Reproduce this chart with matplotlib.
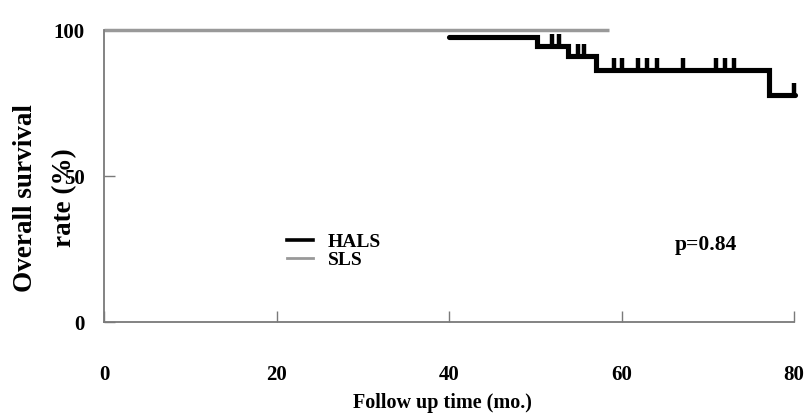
import matplotlib
matplotlib.use("Agg")
import matplotlib.pyplot as plt
from matplotlib.path import Path
from matplotlib.lines import Line2D

plt.rcParams['font.family'] = ['Liberation Serif', 'DejaVu Serif']

# ---- data ----
hals_time = [40, 50.2, 53.8, 57.0, 77.1, 80.1]
hals_surv = [97.6, 94.4, 91.0, 86.3, 77.7, 77.7]
hals_censor_time = [51.9, 52.8, 55.0, 55.7, 59.1, 60.0, 61.9, 62.9, 64.1,
                    67.1, 71.0, 72.0, 73.1, 80.0]
sls_time = [0, 58.5]
sls_surv = [100, 100]
x_ticks = [0, 20, 40, 60, 80]
y_ticks = [0, 50, 100]
series_names = ["HALS", "SLS"]
p_text = "p=0.84"
x_label = "Follow up time (mo.)"
y_label = "Overall survival\nrate (%)"

# ---- figure ----
W, H = 806, 416
fig = plt.figure(figsize=(W / 100, H / 100), dpi=100)
ax = fig.add_axes([104 / W, 1 - 322 / H, (794 - 104) / W, (322 - 30) / H])

black = "#000000"
gray = "#999999"
axis_col = "#7a7a7a"

ax.plot(sls_time, sls_surv, color=gray, lw=2.5, solid_capstyle='butt',
        clip_on=False, zorder=2)
ax.step(hals_time, hals_surv, where='post', color=black, lw=3.7,
        solid_capstyle='round', solid_joinstyle='miter', clip_on=False, zorder=3)


def surv_at(t):
    s = hals_surv[0]
    for tt, ss in zip(hals_time, hals_surv):
        if t >= tt:
            s = ss
    return s


cens_y = [surv_at(t) for t in hals_censor_time]
up_tick = Path([(0, 0), (0, 1)], [Path.MOVETO, Path.LINETO])
ax.plot(hals_censor_time, cens_y, linestyle='none', marker=up_tick,
        markersize=18, markeredgewidth=3.2, markeredgecolor=black,
        clip_on=False, zorder=3)

ax.set_xlim(0, 80)
ax.set_ylim(0, 100)
ax.set_xticks(x_ticks)
ax.set_yticks(y_ticks)
ax.set_xticklabels([str(v) for v in x_ticks], fontsize=15, fontweight='bold')
ax.set_yticklabels([str(v) for v in y_ticks], fontsize=15, fontweight='bold')
ax.tick_params(axis='x', direction='in', length=8, width=1, color=axis_col, pad=31)
ax.tick_params(axis='y', direction='in', length=8, width=1, color=axis_col, pad=14)

for s in ['top', 'right']:
    ax.spines[s].set_visible(False)
for s in ['left', 'bottom']:
    ax.spines[s].set_color(axis_col)
    ax.spines[s].set_linewidth(1.3)

ax.set_xlabel(x_label, fontsize=14.5, fontweight='bold')
ax.xaxis.set_label_coords(0.49, -0.243)
ax.xaxis.label.set_va('top')

ax.text(-0.0855, 0.425, y_label, transform=ax.transAxes, rotation=90,
        ha='center', va='center', fontsize=19.5, fontweight='bold',
        linespacing=1.7, multialignment='center')

handles = [Line2D([], [], color=black, lw=2.6),
           Line2D([], [], color=gray, lw=2.0)]
ax.legend(handles, series_names, loc='upper left',
          bbox_to_anchor=((287 - 104) / 690, (322 - 233.6) / 292),
          frameon=False, borderpad=0, borderaxespad=0, handlelength=1.34,
          handletextpad=0.77, labelspacing=0.0,
          prop={'size': 14, 'weight': 'bold'})

ax.text((675 - 104) / 690, (322 - 245) / 292, p_text, transform=ax.transAxes,
        ha='left', va='center', fontsize=15.5, fontweight='bold')

fig.savefig("out.png", dpi=100)
